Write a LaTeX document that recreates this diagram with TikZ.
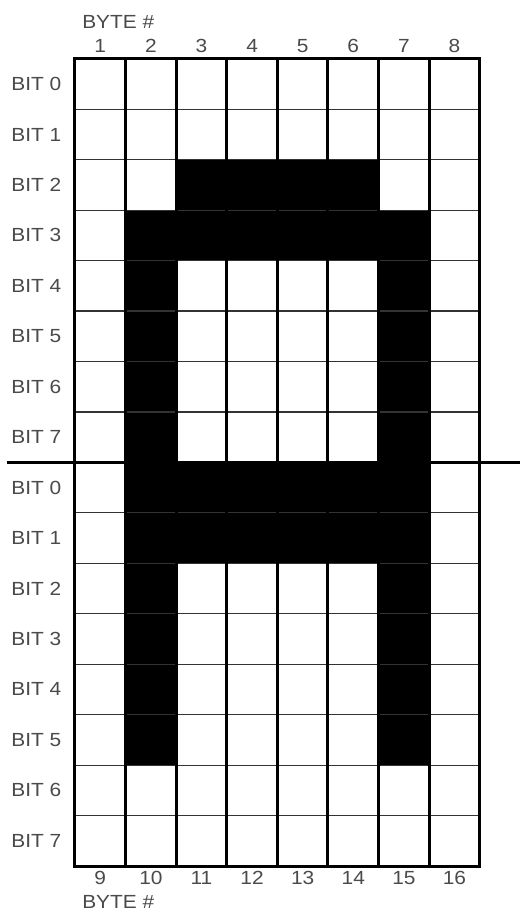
\documentclass[tikz,border=0pt]{standalone}
\usepackage{fontspec}
\setmainfont[FakeStretch=1.1]{Liberation Sans}
\definecolor{labelgray}{HTML}{4A4A4A}
\tikzset{
    lbl/.style={text=labelgray, font=\fontsize{19}{19}\selectfont, inner sep=0pt},
    rowline/.style={line width=1.2pt, black!80},
    colline/.style={line width=3pt, black},
}
\begin{document}
\begin{tikzpicture}[x=50.6pt, y=50.45pt]
    \useasboundingbox (-1.482,-0.971) rectangle (8.794,17.166);

    % Black pixels of the letter
    \fill (2,13) rectangle (6,14);
    \fill (1,12) rectangle (7,13);
    \fill (1,2) rectangle (2,13);
    \fill (6,2) rectangle (7,13);
    \fill (1,6) rectangle (7,8);

    % Bit rows (thin) and byte columns (thick)
    \foreach \y in {1,...,15}
        \draw[rowline] (0,\y) -- (8,\y);
    \foreach \x in {1,...,7}
        \draw[colline] (\x,0) -- (\x,16);
    \draw[colline] (0,0) rectangle (8,16);

    % Divider between upper and lower bytes
    \draw[colline] (-1.34,8) -- (8.794,8);

    % Bit labels
    \foreach \r in {0,...,7} {
        \node[lbl, anchor=west] (bitup\r) at (-1.26, 15.5-\r) {BIT \r};
        \node[lbl, anchor=west] (bitlo\r) at (-1.26, 7.5-\r) {BIT \r};
    }

    % Byte numbers
    \foreach \c in {1,...,8} {
        \pgfmathtruncatemacro\n{\c+8}
        \node[lbl] (byteup\c) at (\c-0.5, 16.25) {\c};
        \node[lbl] (bytelo\c) at (\c-0.5, -0.24) {\n};
    }
    \node[lbl, anchor=west] (titleup) at (0.14, 16.73) {BYTE \#};
    \node[lbl, anchor=west] (titlelo) at (0.14, -0.72) {BYTE \#};
\end{tikzpicture}
\end{document}
